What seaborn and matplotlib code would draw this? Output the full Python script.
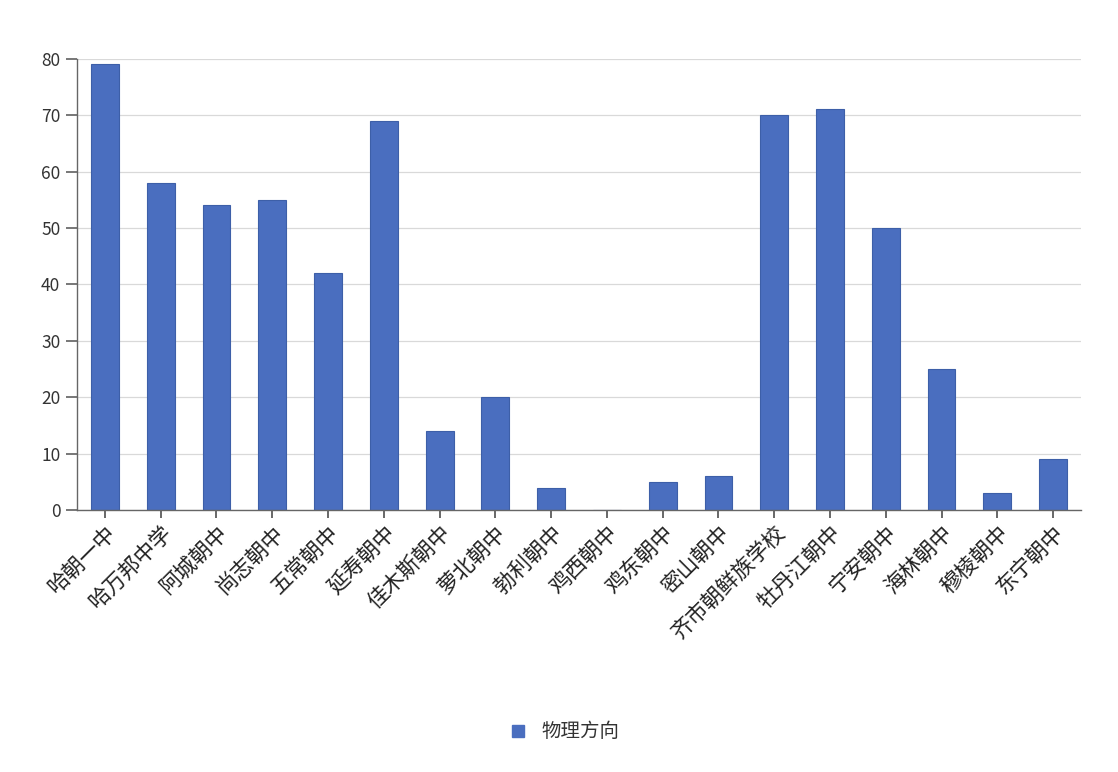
import numpy as np
import pandas as pd
import matplotlib
matplotlib.use("Agg")
import matplotlib.pyplot as plt
import seaborn as sns

schools = ['哈朝一中', '哈万邦中学', '阿城朝中', '尚志朝中', '五常朝中', '延寿朝中',
           '佳木斯朝中', '萝北朝中', '勃利朝中', '鸡西朝中', '鸡东朝中', '密山朝中',
           '齐市朝鲜族学校', '牡丹江朝中', '宁安朝中', '海林朝中', '穆棱朝中', '东宁朝中']
physics = [79, 58, 54, 55, 42, 69, 14, 20, 4, 0, 5, 6, 70, 71, 50, 25, 3, 9]
series_name = '物理方向'

df = pd.DataFrame({'school': schools, 'value': physics, 'series': series_name})

sns.set_theme(style="white")
plt.rcParams['font.family'] = ['Noto Sans CJK SC', 'DejaVu Sans']

fig = plt.figure(figsize=(11.18, 7.72), dpi=100)
ax = fig.add_axes([0.0689, 0.339, 0.898, 0.585])

bar_color = '#4a6ebf'
sns.barplot(data=df, x='school', y='value', hue='series', palette=[bar_color],
            width=0.5, ax=ax, legend=True, saturation=1,
            edgecolor='#3d5fa8', linewidth=0.8)

ax.set_ylim(0, 80)
ax.set_yticks(range(0, 81, 10))
ax.yaxis.grid(True, color='#d9d9d9', linewidth=0.9)
ax.set_axisbelow(True)
ax.set_xlim(-0.5, len(schools) - 0.5)
ax.set_xlabel('')
ax.set_ylabel('')

for s in ['top', 'right']:
    ax.spines[s].set_visible(False)
for s in ['bottom', 'left']:
    ax.spines[s].set_color('#666666')
    ax.spines[s].set_linewidth(1.0)

ax.tick_params(axis='x', which='major', bottom=True, length=6, color='#555555',
               labelsize=15.5, labelcolor='#222222', pad=2)
ax.tick_params(axis='y', left=True, length=8, color='#666666', labelsize=12.5,
               labelcolor='#333333', pad=4)
plt.setp(ax.get_xticklabels(), rotation=45, ha='right', rotation_mode='anchor')

ax.legend_.remove()
h = plt.Line2D([], [], marker='s', linestyle='', color=bar_color, markersize=8)
fig.legend([h], [series_name], loc='center', bbox_to_anchor=(0.5, 0.052),
           frameon=False, fontsize=14, handletextpad=0.2, labelcolor='#333333')

fig.savefig('out.png', dpi=100)
